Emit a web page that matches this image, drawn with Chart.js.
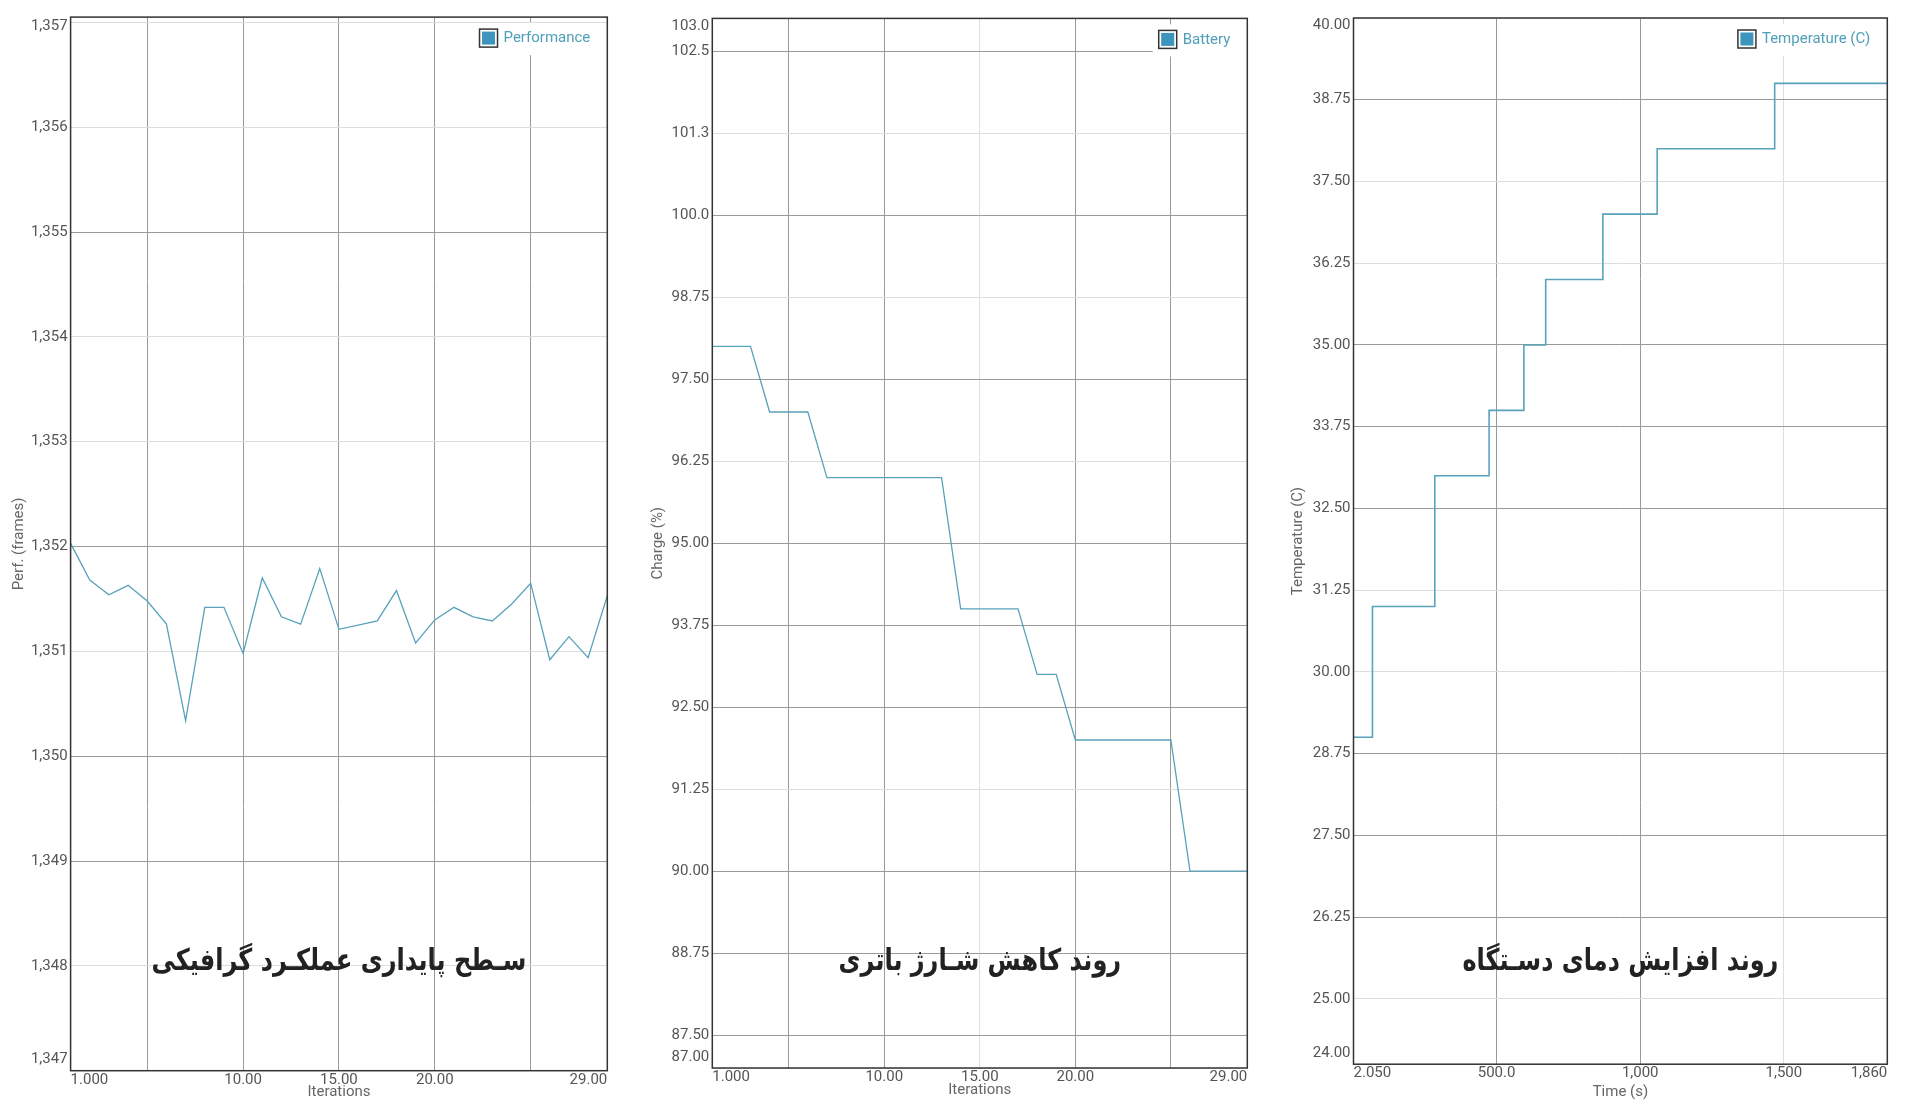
<!DOCTYPE html>
<html>
<head>
<meta charset="utf-8">
<script src="https://cdn.jsdelivr.net/npm/chart.js@4.4.1/dist/chart.umd.min.js"></script>
<style>
  html, body { margin: 0; padding: 0; background: #fff; }
  body { width: 1920px; height: 1106px; position: relative; overflow: hidden; }
  canvas { position: absolute; top: 0; }
</style>
</head>
<body>
<canvas id="perfChart" width="640" height="1106" style="left:0"></canvas>
<canvas id="batteryChart" width="640" height="1106" style="left:640px"></canvas>
<canvas id="tempChart" width="640" height="1106" style="left:1280px"></canvas>
<script>
// --- data ---
const iterations = [1, 2, 3, 4, 5, 6, 7, 8, 9, 10, 11, 12, 13, 14, 15,
                    16, 17, 18, 19, 20, 21, 22, 23, 24, 25, 26, 27, 28, 29];
const perfValues = [1352.03, 1351.68, 1351.54, 1351.63, 1351.48, 1351.26, 1350.34, 1351.42, 1351.42, 1350.98,
                    1351.70, 1351.33, 1351.26, 1351.79, 1351.21, 1351.25, 1351.29, 1351.58, 1351.08, 1351.30,
                    1351.42, 1351.33, 1351.29, 1351.45, 1351.65, 1350.92, 1351.14, 1350.94, 1351.53];
const batteryValues = [98, 98, 98, 97, 97, 97, 96, 96, 96, 96, 96, 96, 96, 94, 94,
                       94, 94, 93, 93, 92, 92, 92, 92, 92, 92, 90, 90, 90, 90];
const tempTimes = [2.05, 68, 285, 474, 595, 671, 870, 1059, 1468, 1860];
const tempValues = [29, 31, 33, 34, 35, 36, 37, 38, 39, 39];

// --- ticks ---
const iterTicks = [1, 5, 10, 15, 20, 25, 29];
const iterLabelled = [1, 10, 15, 20, 29];
const perfTicks = [1347, 1348, 1349, 1350, 1351, 1352, 1353, 1354, 1355, 1356, 1357];
const chargeTicks = [87, 87.5, 88.75, 90, 91.25, 92.5, 93.75, 95, 96.25, 97.5, 98.75, 100, 101.25, 102.5, 103];
const tempTicks = [24, 25, 26.25, 27.5, 28.75, 30, 31.25, 32.5, 33.75, 35, 36.25, 37.5, 38.75, 40];
const timeTicks = [2.05, 500, 1000, 1500, 1860];

// grid lines that come out darker in the original
const perfStrong = [1349, 1350, 1352, 1355];
const iterStrong1 = [5, 10, 15, 20, 25];
const chargeStrong = [87.5, 88.75, 90, 92.5, 93.75, 95, 97.5, 100, 102.5];
const iterStrong2 = [5, 10, 20, 25];
const tempStrong = [26.25, 27.5, 28.75, 32.5, 33.75, 35, 38.75];
const timeStrong = [500, 1000];

const LINE = '#58a2bb';
const TEXT = '#555';

function fmt4(v) {
  const s = Number(v).toPrecision(4);
  if (Math.abs(v) >= 1000) return Number(s).toLocaleString('en-US');
  return s;
}

function gridColor(strong) {
  return ctx => (ctx.tick && strong.includes(ctx.tick.value)) ? '#9a9a9a' : '#dedede';
}

// draws the frame, the in-plot legend and the Persian caption
const framePlugin = {
  id: 'framePlugin',
  afterDatasetsDraw(chart, args, opts) {
    const { ctx, chartArea: a } = chart;
    ctx.save();
    // caption: the original face is narrower than DejaVu, so squeeze it a bit
    ctx.translate((a.left + a.right) / 2, 962);
    ctx.scale(0.8, 1);
    ctx.fillStyle = '#222';
    ctx.font = 'bold 30px "DejaVu Sans"';
    ctx.textAlign = 'center';
    ctx.textBaseline = 'middle';
    ctx.direction = 'rtl';
    ctx.fillText(opts.caption, 0, 0);
    ctx.restore();

    ctx.save();
    ctx.direction = 'ltr';
    ctx.font = '15px Roboto';
    ctx.textBaseline = 'middle';
    const tw = ctx.measureText(opts.legend).width;
    const textRight = a.right - 17;
    const boxLeft = textRight - tw - 24;
    const boxTop = a.top + 12;
    ctx.fillStyle = '#fff';
    ctx.fillRect(boxLeft - 6, boxTop - 6, a.right - boxLeft + 6, 32);
    ctx.fillStyle = '#3d94bc';
    ctx.fillRect(boxLeft + 2.5, boxTop + 2.5, 13, 13);
    ctx.strokeStyle = '#333';
    ctx.lineWidth = 1.5;
    ctx.strokeRect(boxLeft, boxTop, 18, 18);
    ctx.fillStyle = '#4f9fba';
    ctx.textAlign = 'left';
    ctx.fillText(opts.legend, textRight - tw, boxTop + 9.5);

    ctx.strokeStyle = '#333';
    ctx.lineWidth = 1.5;
    ctx.strokeRect(a.left, a.top, a.right - a.left, a.bottom - a.top);
    ctx.restore();
  }
};

function makeChart(id, cfg) {
  const yScale = {
    type: 'linear',
    min: cfg.yMin,
    max: cfg.yMax,
    afterBuildTicks: s => { s.ticks = cfg.yTicks.map(v => ({ value: v })); },
    afterFit: s => { s.width = cfg.yWidth; },
    border: { display: false },
    grid: { color: gridColor(cfg.yStrong), drawTicks: false, lineWidth: 1 },
    ticks: {
      padding: 3,
      color: TEXT,
      callback: (v, i, t) => {
        if (i === 0) return [fmt4(v), ''];
        if (i === t.length - 1) return ['', fmt4(v)];
        return fmt4(v);
      },
      font: c => {
        const n = (c.scale && c.scale.ticks) ? c.scale.ticks.length : 0;
        let lh = 1.2;
        if (c.index !== undefined && n > 0) {
          if (c.index === 0) lh = cfg.bottomLH;
          else if (c.index === n - 1) lh = cfg.topLH;
        }
        return { family: 'Roboto', size: 15, lineHeight: lh };
      }
    },
    title: {
      display: true,
      text: cfg.yTitle,
      color: '#666',
      font: { family: 'Roboto', size: 15, lineHeight: 1.2 },
      padding: { top: cfg.yTitlePad, bottom: 0 }
    }
  };
  const xScale = {
    type: 'linear',
    min: cfg.xMin,
    max: cfg.xMax,
    afterBuildTicks: s => { s.ticks = cfg.xTicks.map(v => ({ value: v })); },
    afterFit: s => { s.height = cfg.xHeight; },
    border: { display: false },
    grid: { color: gridColor(cfg.xStrong), drawTicks: false, lineWidth: 1 },
    ticks: {
      align: 'inner',
      autoSkip: false,
      maxRotation: 0,
      padding: 0.5,
      color: TEXT,
      font: { family: 'Roboto', size: 15, lineHeight: 1.2 },
      callback: v => cfg.xLabelled.includes(v) ? fmt4(v) : ''
    },
    title: {
      display: true,
      text: cfg.xTitle,
      color: '#666',
      font: { family: 'Roboto', size: 15, lineHeight: 1.2 },
      padding: { top: 0, bottom: cfg.xTitlePad }
    }
  };
  return new Chart(document.getElementById(id), {
    type: 'line',
    data: {
      datasets: [{
        label: cfg.legend,
        data: cfg.xs.map((x, i) => ({ x: x, y: cfg.ys[i] })),
        borderColor: LINE,
        borderWidth: cfg.lineWidth,
        pointRadius: 0,
        tension: 0,
        fill: false,
        stepped: cfg.stepped || false
      }]
    },
    options: {
      responsive: false,
      animation: false,
      events: [],
      layout: { padding: { top: cfg.padTop, right: cfg.padRight, bottom: 0, left: 0 } },
      scales: { x: xScale, y: yScale },
      plugins: {
        legend: { display: false },
        tooltip: { enabled: false },
        framePlugin: { caption: cfg.caption, legend: cfg.legend }
      }
    },
    plugins: [framePlugin]
  });
}

makeChart('perfChart', {
  xs: iterations, ys: perfValues, lineWidth: 1.3,
  xMin: 1, xMax: 29, xTicks: iterTicks, xLabelled: iterLabelled, xStrong: iterStrong1,
  yMin: 1347, yMax: 1357.05, yTicks: perfTicks, yStrong: perfStrong,
  yWidth: 70.6, xHeight: 35.3, padTop: 17.1, padRight: 32.7,
  topLH: '7.8px', bottomLH: '22.8px',
  yTitle: 'Perf. (frames)', xTitle: 'Iterations', yTitlePad: 10, xTitlePad: 5,
  legend: 'Performance', caption: 'سـطح پایداری عملکـرد گرافیکی'
});

makeChart('batteryChart', {
  xs: iterations, ys: batteryValues, lineWidth: 1.3,
  xMin: 1, xMax: 29, xTicks: iterTicks, xLabelled: iterLabelled, xStrong: iterStrong2,
  yMin: 87, yMax: 103, yTicks: chargeTicks, yStrong: chargeStrong,
  yWidth: 72.3, xHeight: 38, padTop: 14.3, padRight: 32.7,
  topLH: '15.4px', bottomLH: '22px',
  yTitle: 'Charge (%)', xTitle: 'Iterations', yTitlePad: 9.4, xTitlePad: 6.5,
  legend: 'Battery', caption: 'روند کاهش شـارژ باتری'
});

makeChart('tempChart', {
  xs: tempTimes, ys: tempValues, lineWidth: 1.6, stepped: true,
  xMin: 2.05, xMax: 1860, xTicks: timeTicks, xLabelled: timeTicks, xStrong: timeStrong,
  yMin: 24, yMax: 40, yTicks: tempTicks, yStrong: tempStrong,
  yWidth: 73.5, xHeight: 41.8, padTop: 16.8, padRight: 32.7,
  topLH: '15px', bottomLH: '21.6px',
  yTitle: 'Temperature (C)', xTitle: 'Time (s)', yTitlePad: 9.4, xTitlePad: 4.6,
  legend: 'Temperature (C)', caption: 'روند افزایش دمای دسـتگاه'
});
</script>
</body>
</html>
